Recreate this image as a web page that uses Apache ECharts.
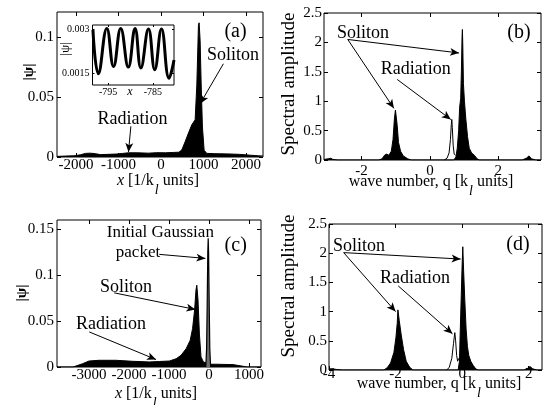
<!DOCTYPE html>
<html><head><meta charset="utf-8">
<script src="https://cdn.jsdelivr.net/npm/echarts@6/dist/echarts.min.js"></script>
<style>html,body{margin:0;padding:0;background:#fff}#c{width:548px;height:405px}</style>
</head><body><div id="c"></div>
<script>
// ---------- DATA ----------
// (a) |psi| vs x, upper envelope of the oscillating wave
const aX = [-2450,-2250,-2050,-1900,-1780,-1670,-1550,-1430,-1250,-1040,-900,-770,-550,-300,-100,100,290,420,490,567,645,725,802,842,880,896,920,944,974,1014,1078,1250,1550,1850,2100,2300,2400];
const aY = [0.0005,0.0008,0.001,0.0018,0.003,0.0032,0.0028,0.002,0.0022,0.0025,0.003,0.0035,0.0035,0.0032,0.0036,0.0035,0.0038,0.004,0.006,0.0128,0.02,0.027,0.031,0.06,0.11,0.112,0.097,0.061,0.025,0.0056,0.003,0.0028,0.0026,0.0022,0.0015,0.001,0.0008];
// (a) inset
const insX = [-798.4,-797.2,-795.3,-793.8,-792.2,-790.5,-789.0,-787.7,-786.0,-784.6,-783.1,-781.4,-780.3];
const insY = [0.00297,0.00148,0.00302,0.00173,0.00302,0.00171,0.00302,0.00168,0.0030,0.00162,0.0030,0.00133,0.00195];
// (b) spectrum
const bQ = [-3.1,-2.98,-2.9,-2.84,-2.7,-1.5,-1.4,-1.33,-1.27,-1.2,-1.13,-1.08,-1.04,-1.01,-0.99,-0.96,-0.92,-0.86,-0.78,-0.65,-0.55,0.7,0.76,0.8,0.84,0.87,0.9,0.92,0.94,0.95,0.96,0.98,1.01,1.05,1.1,1.15,1.22,1.3,1.38,1.45,2.7,2.82,2.9,2.97,3.1,3.25];
const bAmp = [0.01,0.02,0.03,0.01,0,0,0.02,0.08,0.1,0.08,0.15,0.35,0.7,0.85,0.84,0.6,0.3,0.15,0.07,0.02,0,0,0.05,0.2,0.5,0.9,1.05,1.5,2.1,2.22,2.0,1.3,1.0,0.7,0.4,0.2,0.12,0.08,0.02,0,0,0.03,0.07,0.02,0,0];
const bRadQ = [0.42,0.5,0.56,0.6,0.625,0.64,0.655,0.68,0.71,0.75];
const bRadAmp = [0,0.03,0.12,0.35,0.6,0.69,0.55,0.25,0.1,0.08];
// (c) |psi| vs x
const cX = [-3800,-3400,-3330,-3160,-3000,-2750,-2330,-1910,-1490,-1240,-990,-820,-700,-570,-470,-410,-360,-325,-305,-275,-240,-200,-140,-90,30,200,400,600,800,950,1300];
const cY = [0,0,0.001,0.0036,0.0065,0.0073,0.0073,0.0062,0.0055,0.006,0.0065,0.009,0.0127,0.02,0.029,0.042,0.062,0.084,0.089,0.073,0.036,0.011,0.0055,0.006,0.003,0.003,0.0028,0.0026,0.0012,0,0];
const gaussX = [-80,-60,-45,-30,-20,-10,5,20,40];
const gaussY = [0,0.02,0.07,0.125,0.14,0.125,0.07,0.02,0];
// (d) spectrum
const dQ = [-4,-3.9,-3.85,-3.78,-3.6,-2.35,-2.25,-2.15,-2.05,-1.99,-1.95,-1.93,-1.89,-1.83,-1.76,-1.68,-1.58,-1.48,-0.12,-0.08,-0.06,-0.03,0.0,0.02,0.045,0.08,0.12,0.16,0.2,0.26,0.33,0.41,0.48,1.85,1.97,2.04,2.12,2.25,2.4];
const dAmp = [0.02,0.02,0.03,0.01,0,0,0.04,0.12,0.3,0.55,0.8,1.03,0.85,0.6,0.35,0.15,0.05,0,0,0.15,0.6,1.2,1.8,2.11,1.7,1.2,0.7,0.4,0.25,0.15,0.08,0.02,0,0,0.03,0.06,0.02,0,0];
const dRadQ = [-0.47,-0.39,-0.31,-0.26,-0.22,-0.195,-0.165,-0.135,-0.1];
const dRadAmp = [0,0.04,0.2,0.45,0.64,0.5,0.25,0.15,0.2];
// tick values
const aTicksX = [-2000,-1000,0,1000,2000], aTicksY = [0,0.05,0.1];
const bTicksX = [-2,0,2], bTicksY = [0,0.5,1,1.5,2,2.5];
const cTicksX = [-3000,-2000,-1000,0,1000], cTicksY = [0,0.05,0.1,0.15];
const dTicksX = [-4,-2,0,2], dTicksY = [0,0.5,1,1.5,2,2.5];
const insTicksX = [-795,-785], insTicksY = [0.0015,0.003];
// annotation arrows [from, to] in data units
const aArrows = [[[1468,0.0778],[920,0.0445]], [[-711,0.0256],[-767,0.0042]]];
const bArrows = [[[-2.405,2.05],[-1.055,0.878]], [[-2.405,2.05],[0.852,1.82]], [[-0.958,1.37],[0.609,0.69]]];
const cArrows = [[[-1242,0.1226],[-90,0.1182]], [[-2369,0.0807],[-340,0.0626]], [[-2995,0.0382],[-1324,0.0081]]];
const dArrows = [[[-3.56,2.01],[-2.0,1.0]], [[-3.56,2.01],[-0.045,1.9]], [[-1.92,1.44],[-0.29,0.62]]];

// ---------- CHART ----------
const FONT = 'Liberation Serif';
const pairs = (xs, ys) => xs.map((x, i) => [x, ys[i]]);
const fmt = v => String(+(+v).toPrecision(6));

const grids = [
  {left:57, top:12, width:206, height:145},
  {left:324, top:13, width:217, height:147},
  {left:57, top:220, width:204, height:147},
  {left:329, top:224, width:213, height:146},
  {left:92.5, top:25, width:81.5, height:60}
].map(g => Object.assign({show:true, borderColor:'#000', borderWidth:1, backgroundColor:'#fff', containLabel:false}, g));

function mkX(gi, min, max, ticks, o) {
  o = o || {};
  const tick = {show:true, inside:true, length:o.tl || 4, customValues:ticks, lineStyle:{color:'#000', width:1}};
  return [{
    type:'value', gridIndex:gi, min, max, position:'bottom',
    axisLine:{show:false, onZero:false}, splitLine:{show:false}, axisTick:tick,
    axisLabel:{show:true, customValues:ticks, formatter:fmt, margin:o.margin, fontFamily:FONT, fontSize:o.fs || 15, color:'#000'}
  }, {
    type:'value', gridIndex:gi, min, max, position:'top',
    axisLine:{show:false, onZero:false}, splitLine:{show:false}, axisTick:tick, axisLabel:{show:false}
  }];
}
function mkY(gi, min, max, ticks, o) {
  o = o || {};
  const tick = {show:true, inside:true, length:o.tl || 4, customValues:ticks, lineStyle:{color:'#000', width:1}};
  return [{
    type:'value', gridIndex:gi, min, max, position:'left',
    axisLine:{show:false, onZero:false}, splitLine:{show:false}, axisTick:tick,
    axisLabel:{show:true, customValues:ticks, formatter:fmt, margin:o.margin, fontFamily:FONT, fontSize:o.fs || 15, color:'#000'}
  }, {
    type:'value', gridIndex:gi, min, max, position:'right',
    axisLine:{show:false, onZero:false}, splitLine:{show:false}, axisTick:tick, axisLabel:{show:false}
  }];
}

const xAxis = [].concat(
  mkX(0, -2450, 2400, aTicksX, {margin:1}),
  mkX(1, -3.1, 3.25, bTicksX, {margin:4}),
  mkX(2, -3800, 1300, cTicksX, {margin:1}),
  mkX(3, -4, 2.4, dTicksX, {margin:-3}),
  mkX(4, -798.5, -780.3, insTicksX, {margin:2, fs:10, tl:2})
);
const yAxis = [].concat(
  mkY(0, 0, 0.121, aTicksY, {margin:3}),
  mkY(1, 0, 2.5, bTicksY, {margin:2}),
  mkY(2, 0, 0.16, cTicksY, {margin:3}),
  mkY(3, 0, 2.5, dTicksY, {margin:2}),
  mkY(4, 0.0011, 0.00314, insTicksY, {margin:3, fs:10, tl:2})
);

function arrows(list) {
  return {
    silent:true, animation:false, symbol:['none','arrow'], symbolSize:[6,9],
    label:{show:false}, emphasis:{disabled:true},
    lineStyle:{color:'#000', width:1, type:'solid'},
    data:list.map(a => [{coord:a[0]}, {coord:a[1]}])
  };
}
function fill(gi, data, arr, extra) {
  const s = {
    type:'line', xAxisIndex:2*gi, yAxisIndex:2*gi, data, symbol:'none', showSymbol:false,
    lineStyle:{color:'#000', width:1}, areaStyle:{color:'#000', opacity:1},
    silent:true, animation:false, z:3
  };
  if (arr) s.markLine = arrows(arr);
  return Object.assign(s, extra || {});
}
function thin(gi, data, extra) {
  return Object.assign({
    type:'line', xAxisIndex:2*gi, yAxisIndex:2*gi, data, symbol:'none', showSymbol:false,
    lineStyle:{color:'#000', width:1}, silent:true, animation:false, z:4
  }, extra || {});
}

const series = [
  fill(0, pairs(aX, aY), aArrows),
  thin(4, pairs(insX, insY), {smooth:0.45, lineStyle:{color:'#000', width:3}}),
  fill(1, pairs(bQ, bAmp), bArrows),
  thin(1, pairs(bRadQ, bRadAmp)),
  fill(2, pairs(cX, cY), cArrows),
  fill(2, pairs(gaussX, gaussY), null, {lineStyle:{color:'#000', width:1.2}, areaStyle:{color:'#6e6e6e', opacity:1}, z:4}),
  fill(3, pairs(dQ, dAmp), dArrows),
  thin(3, pairs(dRadQ, dRadAmp))
];

const T = (x, y, text, size, extra, rot) => ({
  type:'text', x, y, rotation:rot || 0, silent:true, z:100,
  style:Object.assign({text, fontFamily:FONT, fontSize:size, fill:'#000', align:'center', verticalAlign:'middle'}, extra || {})
});
const xRich = {
  n:{fontFamily:FONT, fontSize:16, verticalAlign:'top'},
  i:{fontFamily:FONT, fontSize:16, fontStyle:'italic', verticalAlign:'top'},
  s:{fontFamily:FONT, fontSize:14, fontStyle:'italic', verticalAlign:'top', padding:[10,0,0,1]}
};
const xTitle = (x, y, pre) => T(x, y, pre, 16, {verticalAlign:'top', rich:xRich});
const R = Math.PI / 2;

const graphic = [
  // axis titles
  xTitle(158, 173, '{i|x}{n| [1/k}{s|l}{n| units]}'),
  xTitle(431, 174, '{n|wave number, q [k}{s|l}{n| units]}'),
  xTitle(156, 386, '{i|x}{n| [1/k}{s|l}{n| units]}'),
  xTitle(439, 376, '{n|wave number, q [k}{s|l}{n| units]}'),
  T(29, 72, '|ψ|', 15, {fontWeight:'bold'}, R),
  T(22, 293, '|ψ|', 15, {fontWeight:'bold'}, R),
  T(289, 84, 'Spectral amplitude', 19, null, R),
  T(289, 286, 'Spectral amplitude', 19, null, R),
  // inset titles
  T(66, 49, '|ψ|', 13, null, R),
  T(130, 92, 'x', 12, {fontStyle:'italic'}),
  // annotations
  T(233, 55, 'Soliton', 18), T(132.5, 119, 'Radiation', 18), T(235.5, 31.5, '(a)', 20),
  T(363, 33, 'Soliton', 18), T(415.7, 69, 'Radiation', 18), T(519, 32.5, '(b)', 20),
  T(160.3, 232.5, 'Initial Gaussian', 17), T(138, 253, 'packet', 17),
  T(126, 287.5, 'Soliton', 18), T(111, 324, 'Radiation', 18), T(235.7, 245.8, '(c)', 20),
  T(359, 246, 'Soliton', 18), T(415, 278.5, 'Radiation', 18), T(518, 245, '(d)', 20)
];

const chart = echarts.init(document.getElementById('c'), null, {renderer:'canvas'});
chart.setOption({animation:false, backgroundColor:'#fff', grid:grids, xAxis, yAxis, series, graphic});
</script>
</body></html>
